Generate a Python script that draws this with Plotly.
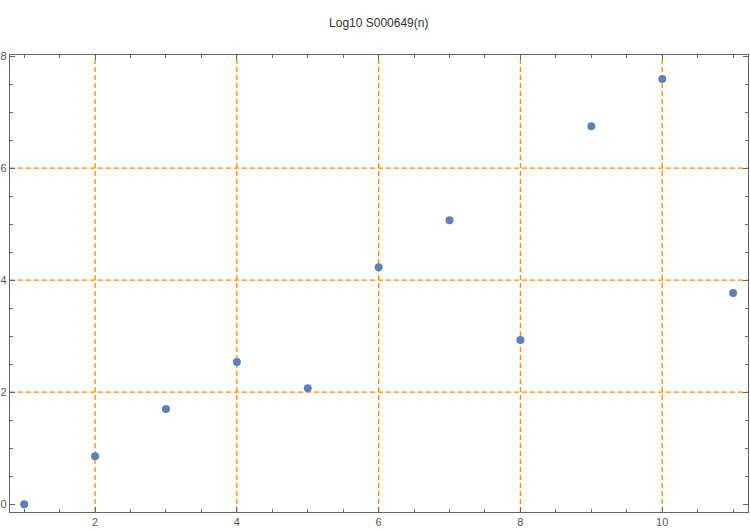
import plotly.graph_objects as go

n_values = [1, 2, 3, 4, 5, 6, 7, 8, 9, 10, 11]
log_values = [0.0, 0.857, 1.70, 2.54, 2.07, 4.23, 5.07, 2.93, 6.75, 7.59, 3.77]
x_tick_vals = [2, 4, 6, 8, 10]
y_tick_vals = [0, 2, 4, 6, 8]
grid_x = [2, 4, 6, 8, 10]
grid_y = [2, 4, 6]

fig = go.Figure()
fig.add_trace(go.Scatter(
    x=n_values, y=log_values, mode="markers",
    marker=dict(color="#5E81B5", size=8),
    showlegend=False, cliponaxis=False,
))

shapes = []
for gx in grid_x:
    shapes.append(dict(type="line", xref="x", yref="paper", x0=gx, x1=gx, y0=0, y1=1,
                       line=dict(color="#FF8C00", width=1.3, dash="5px,3px"), layer="below"))
for gy in grid_y:
    shapes.append(dict(type="line", xref="paper", yref="y", x0=0, x1=1, y0=gy, y1=gy,
                       line=dict(color="#FF8C00", width=1.3, dash="5px,3px"), layer="below"))

axis_common = dict(
    showgrid=False, zeroline=False, showline=True, linecolor="#666666", linewidth=1.3,
    mirror="allticks", ticks="inside", ticklen=5, tickcolor="#666666", tickwidth=1,
    tickfont=dict(family="Liberation Sans, Arial", size=11, color="#555555"),
    automargin=False,
)

fig.update_layout(
    width=750, height=530,
    margin=dict(l=10, r=2, t=55, b=18),
    paper_bgcolor="white", plot_bgcolor="white",
    title=dict(text="Log10 S000649(n)", x=0.505, xanchor="center", y=0.957, yanchor="middle",
               font=dict(family="Liberation Sans, Arial", size=12, color="#333333")),
    shapes=shapes,
    xaxis=dict(range=[0.8, 11.21], tickvals=x_tick_vals,
               minor=dict(dtick=0.5, tick0=0, ticks="inside", ticklen=3, tickcolor="#666666"),
               **axis_common),
    yaxis=dict(range=[-0.14, 8.02], tickvals=y_tick_vals,
               minor=dict(dtick=0.5, tick0=0, ticks="inside", ticklen=3, tickcolor="#666666"),
               **axis_common),
)

fig.write_html("out.html", config={"displayModeBar": False},
               post_script="document.body.style.margin='0';")
